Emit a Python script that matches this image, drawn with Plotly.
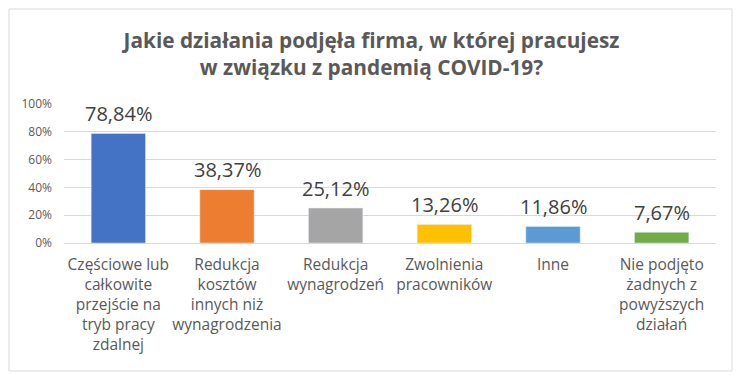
import plotly.graph_objects as go

categories = [
    "Częściowe lub<br>całkowite<br>przejście na<br>tryb pracy<br>zdalnej",
    "Redukcja<br>kosztów<br>innych niż<br>wynagrodzenia",
    "Redukcja<br>wynagrodzeń",
    "Zwolnienia<br>pracowników",
    "Inne",
    "Nie podjęto<br>żadnych z<br>powyższych<br>działań",
]
values = [78.84, 38.37, 25.12, 13.26, 11.86, 7.67]
labels = ["78,84%", "38,37%", "25,12%", "13,26%", "11,86%", "7,67%"]
colors = ["#4472C4", "#ED7D31", "#A5A5A5", "#FFC000", "#5B9BD5", "#70AD47"]
yticks = [0, 20, 40, 60, 80, 100]
yticklabels = ["0%", "20%", "40%", "60%", "80%", "100%"]

# page body has an 8px default margin, so work in page pixels minus offset
OFF = 8
PW, PH = 743, 384
W, H = PW - OFF, PH - OFF
# plot area in page pixels
left, right, top, bottom = 64, 716, 104, 243
L, T = left - OFF, top - OFF
R, B = W - (right - OFF), H - (bottom - OFF)
pw, ph = W - L - R, H - T - B

fig = go.Figure(go.Bar(
    x=categories, y=values, marker_color=colors, width=0.5,
    hoverinfo="x+y",
))

annotations = [
    dict(x=c, y=v, text=t, xref="x", yref="y", showarrow=False,
         yanchor="middle", yshift=20,
         font=dict(size=20, color="#404040", family="Open Sans"))
    for c, v, t in zip(categories, values, labels)
]

def px2x(p):
    return (p - OFF - L) / pw

def px2y(p):
    return (H - B - (p - OFF)) / ph

fig.update_layout(
    width=W, height=H,
    margin=dict(l=L, r=R, t=T, b=B, autoexpand=False),
    paper_bgcolor="white", plot_bgcolor="white",
    showlegend=False,
    title=dict(
        text="Jakie działania podjęła firma, w której pracujesz<br>w związku z pandemią COVID-19?",
        x=(371.5 - OFF) / W, xanchor="center",
        y=1 - (48 - OFF) / H, yanchor="middle",
        font=dict(size=20.8, color="#595959", family="Open Sans", weight="bold"),
    ),
    xaxis=dict(
        showline=True, linecolor="#D9D9D9", ticks="", automargin=False,
        ticklabelstandoff=7,
        tickfont=dict(size=15.5, color="#595959", family="Open Sans"),
    ),
    yaxis=dict(
        range=[0, 100], tickvals=yticks, ticktext=yticklabels,
        gridcolor="#D9D9D9", zeroline=False, showline=False, automargin=False,
        ticklabelstandoff=11,
        tickfont=dict(size=12, color="#595959", family="Open Sans"),
    ),
    annotations=annotations,
    shapes=[dict(
        type="rect", xref="paper", yref="paper",
        x0=px2x(9), x1=px2x(732), y0=px2y(371), y1=px2y(9),
        line=dict(color="#D9D9D9", width=1), layer="below",
    )],
    bargap=0.5,
)

fig.write_html("out.html")
